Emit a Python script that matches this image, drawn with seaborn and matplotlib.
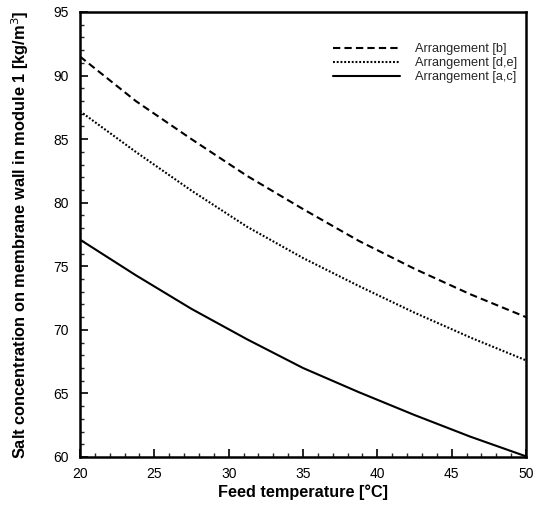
import matplotlib
matplotlib.use("Agg")
import matplotlib.pyplot as plt
from matplotlib.ticker import MultipleLocator
import seaborn as sns
import pandas as pd

# Feed temperature grid [°C]
temperature = [20, 23.75, 27.5, 31.25, 35, 38.75, 42.5, 46.25, 50]

# Salt concentration on the membrane wall of module 1 [kg/m3]
conc_b = [91.5, 88.0, 85.0, 82.1, 79.5, 77.0, 74.8, 72.8, 71.0]
conc_de = [87.2, 84.0, 80.95, 78.1, 75.65, 73.45, 71.35, 69.4, 67.6]
conc_ac = [77.1, 74.3, 71.65, 69.25, 67.0, 65.1, 63.3, 61.6, 60.05]

series_labels = ["Arrangement [b]", "Arrangement [d,e]", "Arrangement [a,c]"]

sns.set_theme(style="white")
plt.rcParams["font.family"] = ["Liberation Sans", "DejaVu Sans"]

fig = plt.figure(figsize=(5.33, 5.08), dpi=100)
ax = fig.add_axes([0.150, 0.1004, 0.837, 0.876])

styles = [
    (conc_b, series_labels[0], (0, (3.5, 2.0))),
    (conc_de, series_labels[1], (0, (0.9, 0.9))),
    (conc_ac, series_labels[2], "-"),
]
for values, label, ls in styles:
    df = pd.DataFrame({"T": temperature, "c": values})
    sns.lineplot(data=df, x="T", y="c", ax=ax, color="black",
                 linewidth=1.5, linestyle=ls, label=label)

ax.set_xlim(20, 50)
ax.set_ylim(60, 95)
ax.xaxis.set_major_locator(MultipleLocator(5))
ax.xaxis.set_minor_locator(MultipleLocator(1))
ax.yaxis.set_major_locator(MultipleLocator(5))
ax.yaxis.set_minor_locator(MultipleLocator(1))
ax.tick_params(which="major", direction="in", length=6, width=1.2,
               labelsize=10, colors="black", bottom=True, left=True,
               top=False, right=False)
ax.tick_params(axis="x", which="major", pad=7)
ax.tick_params(axis="y", which="major", pad=8)
ax.tick_params(which="minor", direction="in", length=3, width=1.0,
               bottom=True, left=True, top=False, right=False)
for side in ["left", "right", "top", "bottom"]:
    ax.spines[side].set_color("black")
    ax.spines[side].set_linewidth(1.8)

ax.set_xlabel("Feed temperature [°C]", fontsize=11.7, fontweight="bold",
              color="black", labelpad=3)
ax.set_ylabel("Salt concentration on membrane wall in module 1 [kg/m$^3$]",
              fontsize=11.8, fontweight="bold", color="black", labelpad=16)

leg = ax.legend(loc="upper right", frameon=False, fontsize=9.2,
                handlelength=5.2, handletextpad=1.2, labelspacing=0.15,
                borderaxespad=0.3, bbox_to_anchor=(1.0, 0.95))

fig.savefig("out.png", dpi=100)
